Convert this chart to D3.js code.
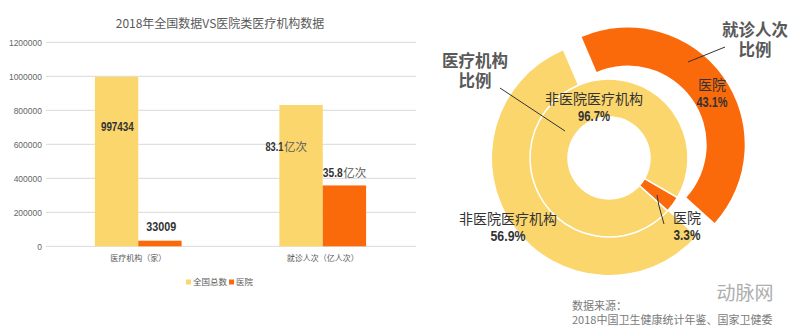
<!DOCTYPE html>
<html>
<head>
<meta charset="utf-8">
<script src="https://cdn.jsdelivr.net/npm/d3@7"></script>
<style>
  body { margin: 0; background: #fff; }
  svg { display: block; font-family: "Noto Sans CJK SC", "Noto Sans", sans-serif; }
  .num { font-family: "Liberation Sans", Arial, sans-serif; font-weight: bold; }
</style>
</head>
<body>
<svg width="802" height="334"></svg>
<script>
// bar chart data
var categories = ["医疗机构（家）", "就诊人次（亿人次）"];
var seriesNames = ["全国总数", "医院"];
var totalValues = [997434, 831000];
var hospitalValues = [33009, 358000];
var totalLabels = ["997434", "83.1"];
var hospitalLabels = ["33009", "35.8"];
var labelUnits = ["", "亿次"];
var yTicks = [0, 200000, 400000, 600000, 800000, 1000000, 1200000];

// donut data (percent)
var sliceNames = ["非医院医疗机构", "医院"];
var institutionShare = [96.7, 3.3];
var visitShare = [56.9, 43.1];

var yellow = "#fbd66d";
var orange = "#fa6a0a";
var colors = [yellow, orange];

var svg = d3.select("svg");

// bold digits squeezed horizontally, like the condensed face of the original
// (x = left edge, width = wanted width)
function narrowText(x, y, str, size, width) {
  var g = svg.append("g");
  var t = g.append("text").attr("class", "num")
    .attr("font-size", size).attr("fill", "#333").text(str);
  var w = t.node().getComputedTextLength();
  g.attr("transform", "translate(" + x + "," + y + ") scale(" + (width / w) + ",1)");
}

// ---------- bar chart ----------
var x = d3.scaleBand()
  .domain(categories)
  .range([46, 415])
  .paddingInner(0.53)
  .paddingOuter(0.265);

var xSub = d3.scaleBand()
  .domain(seriesNames)
  .range([0, x.bandwidth()]);

var y = d3.scaleLinear()
  .domain([0, 1200000])
  .range([246.3, 42.3]);

svg.append("text")
  .attr("x", 220)
  .attr("y", 28)
  .attr("text-anchor", "middle")
  .attr("font-size", 12)
  .attr("fill", "#595959")
  .text("2018年全国数据VS医院类医疗机构数据");

// gridlines
svg.selectAll(".grid")
  .data(yTicks)
  .enter().append("line")
  .attr("x1", 46)
  .attr("x2", 416)
  .attr("y1", d => y(d))
  .attr("y2", d => y(d))
  .attr("stroke", "#d9d9d9")
  .attr("stroke-width", 1);

// y axis labels
var yAxis = d3.axisLeft(y).tickValues(yTicks).tickSize(0).tickPadding(0).tickFormat(d3.format("d"));
var yg = svg.append("g")
  .attr("transform", "translate(42,0)")
  .call(yAxis);
yg.select(".domain").remove();
yg.selectAll("text")
  .attr("font-family", "'Liberation Sans', Arial, sans-serif")
  .attr("font-size", 8.5)
  .attr("fill", "#666");

var rows = categories.map((c, i) => ({
  cat: c,
  values: [totalValues[i], hospitalValues[i]]
}));

var groups = svg.selectAll(".cat")
  .data(rows)
  .enter().append("g")
  .attr("transform", d => "translate(" + x(d.cat) + ",0)");

groups.selectAll("rect")
  .data(d => d.values.map((v, j) => ({ v: v, s: seriesNames[j], j: j })))
  .enter().append("rect")
  .attr("x", d => xSub(d.s))
  .attr("width", xSub.bandwidth())
  .attr("y", d => y(d.v))
  .attr("height", d => y(0) - y(d.v))
  .attr("fill", d => colors[d.j]);

// value labels, first category
var cx0 = x(categories[0]);
narrowText(cx0 + xSub(seriesNames[0]) + 6, y(totalValues[0]) + 54, totalLabels[0], 13, 33);
narrowText(cx0 + xSub(seriesNames[1]) + 8, y(hospitalValues[0]) - 10, hospitalLabels[0], 13, 30);

// value labels, second category: number + unit
var cx1 = x(categories[1]);
function unitLabel(xs, yc, num, numW, unit) {
  narrowText(xs, yc, num, 13, numW);
  svg.append("text")
    .attr("x", xs + numW + 0.5).attr("y", yc)
    .attr("font-size", 11.5).attr("fill", "#595959")
    .text(unit);
}
unitLabel(cx1 + xSub(seriesNames[0]) - 14, y(totalValues[1]) + 46, totalLabels[1], 18, labelUnits[1]);
unitLabel(cx1 + xSub(seriesNames[1]), y(hospitalValues[1]) - 8, hospitalLabels[1], 20, labelUnits[1]);

// category labels
svg.selectAll(".xlab")
  .data(categories)
  .enter().append("text")
  .attr("x", d => x(d) + x.bandwidth() / 2)
  .attr("y", 261)
  .attr("text-anchor", "middle")
  .attr("font-size", 8)
  .attr("fill", "#595959")
  .text(d => d);

// legend
var legend = svg.append("g");
var legX = [186, 229];
seriesNames.forEach((s, i) => {
  legend.append("rect")
    .attr("x", legX[i]).attr("y", 279.5)
    .attr("width", 5).attr("height", 5)
    .attr("fill", colors[i]);
  legend.append("text")
    .attr("x", legX[i] + 7).attr("y", 285)
    .attr("font-size", 8.5)
    .attr("fill", "#595959")
    .text(s);
});

// ---------- donut ----------
var cx = 609, cy = 158;
var start = 132 * Math.PI / 180;
var pie = d3.pie().sort(null).startAngle(start).endAngle(start + 2 * Math.PI);

var innerArc = d3.arc().innerRadius(41).outerRadius(79);
var outerArc = d3.arc().innerRadius(79).outerRadius(117);

var donut = svg.append("g").attr("transform", "translate(" + cx + "," + cy + ")");

donut.selectAll(".outer")
  .data(pie(visitShare))
  .enter().append("path")
  .attr("d", outerArc)
  .attr("fill", (d, i) => colors[i])
  .attr("transform", (d, i) => {
    if (i === 0) return null;
    var a = (d.startAngle + d.endAngle) / 2;
    return "translate(" + (23 * Math.sin(a)) + "," + (-23 * Math.cos(a)) + ")";
  });

donut.selectAll(".inner")
  .data(pie(institutionShare))
  .enter().append("path")
  .attr("d", innerArc)
  .attr("fill", (d, i) => colors[i])
  .attr("stroke", "#fff")
  .attr("stroke-width", 1.5);

// leader lines
var lines = [
  [[500, 88], [565, 131]],
  [[725, 47], [688, 62]],
  [[657, 195], [659, 206], [664, 224]]
];
lines.forEach(p => {
  svg.append("path")
    .attr("d", d3.line()(p))
    .attr("fill", "none")
    .attr("stroke", "#333")
    .attr("stroke-width", 1);
});

// two-line titles
function twoLine(xc, y1, a, b, size) {
  var t = svg.append("text").attr("x", xc).attr("y", y1).attr("text-anchor", "middle")
    .attr("font-size", size).attr("font-weight", "bold").attr("fill", "#595959");
  t.append("tspan").attr("x", xc).text(a);
  t.append("tspan").attr("x", xc).attr("dy", 20).text(b);
}
twoLine(475, 67, "医疗机构", "比例", 16.5);
twoLine(755, 36, "就诊人次", "比例", 16.5);

function sliceLabel(xc, y1, name, pct, pctW) {
  svg.append("text").attr("x", xc).attr("y", y1).attr("text-anchor", "middle")
    .attr("font-size", 14).attr("fill", "#333").text(name);
  narrowText(xc - pctW / 2, y1 + 17, pct + "%", 14, pctW);
}
sliceLabel(594, 104, sliceNames[0], institutionShare[0], 32);
sliceLabel(712, 90, sliceNames[1], visitShare[1], 31);
sliceLabel(508, 224, sliceNames[0], visitShare[0], 35);
sliceLabel(687, 223, sliceNames[1], institutionShare[1], 27);

// watermark
svg.append("text")
  .attr("x", 745).attr("y", 300)
  .attr("text-anchor", "middle")
  .attr("font-size", 19)
  .attr("fill", "#9a9a9a")
  .attr("opacity", 0.8)
  .text("动脉网");

// source
var src = svg.append("text").attr("x", 572).attr("y", 310)
  .attr("font-size", 11).attr("fill", "#7a7a7a");
src.append("tspan").attr("x", 572).text("数据来源：");
src.append("tspan").attr("x", 572).attr("dy", 14).text("2018中国卫生健康统计年鉴、国家卫健委");
</script>
</body>
</html>
